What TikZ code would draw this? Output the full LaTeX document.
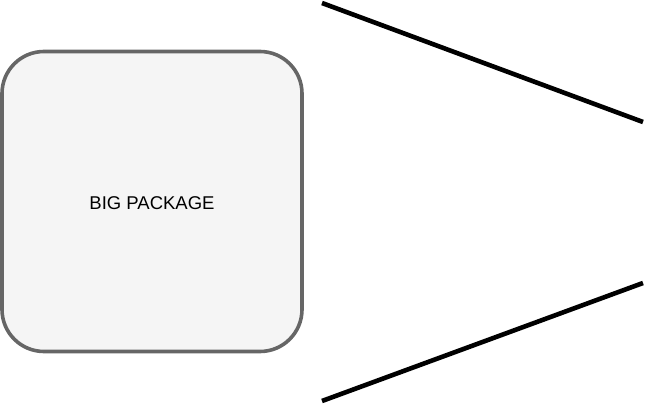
\documentclass[tikz,border=0pt]{standalone}
\usepackage{fontspec}
\setmainfont{Liberation Sans}
\begin{document}
\begin{tikzpicture}[x=1pt,y=-1pt,
  pkg/.style={draw=boxgray, fill=boxfill, line width=3.6pt, rounded corners=42pt},
  wire/.style={draw=black, line width=4.6pt}]
\definecolor{boxgray}{HTML}{666666}
\definecolor{boxfill}{HTML}{F5F5F5}
\useasboundingbox (0,0) rectangle (649,406);
\draw[pkg] (2,51.5) rectangle (302,351.5);
\node[font=\fontsize{18.5}{22}\selectfont] (label) at (152,203) {BIG PACKAGE};
\coordinate (a1) at (322,3);
\coordinate (a2) at (643,122);
\coordinate (b1) at (322,401);
\coordinate (b2) at (643,283);
\draw[wire] (a1) -- (a2);
\draw[wire] (b1) -- (b2);
\end{tikzpicture}
\end{document}
